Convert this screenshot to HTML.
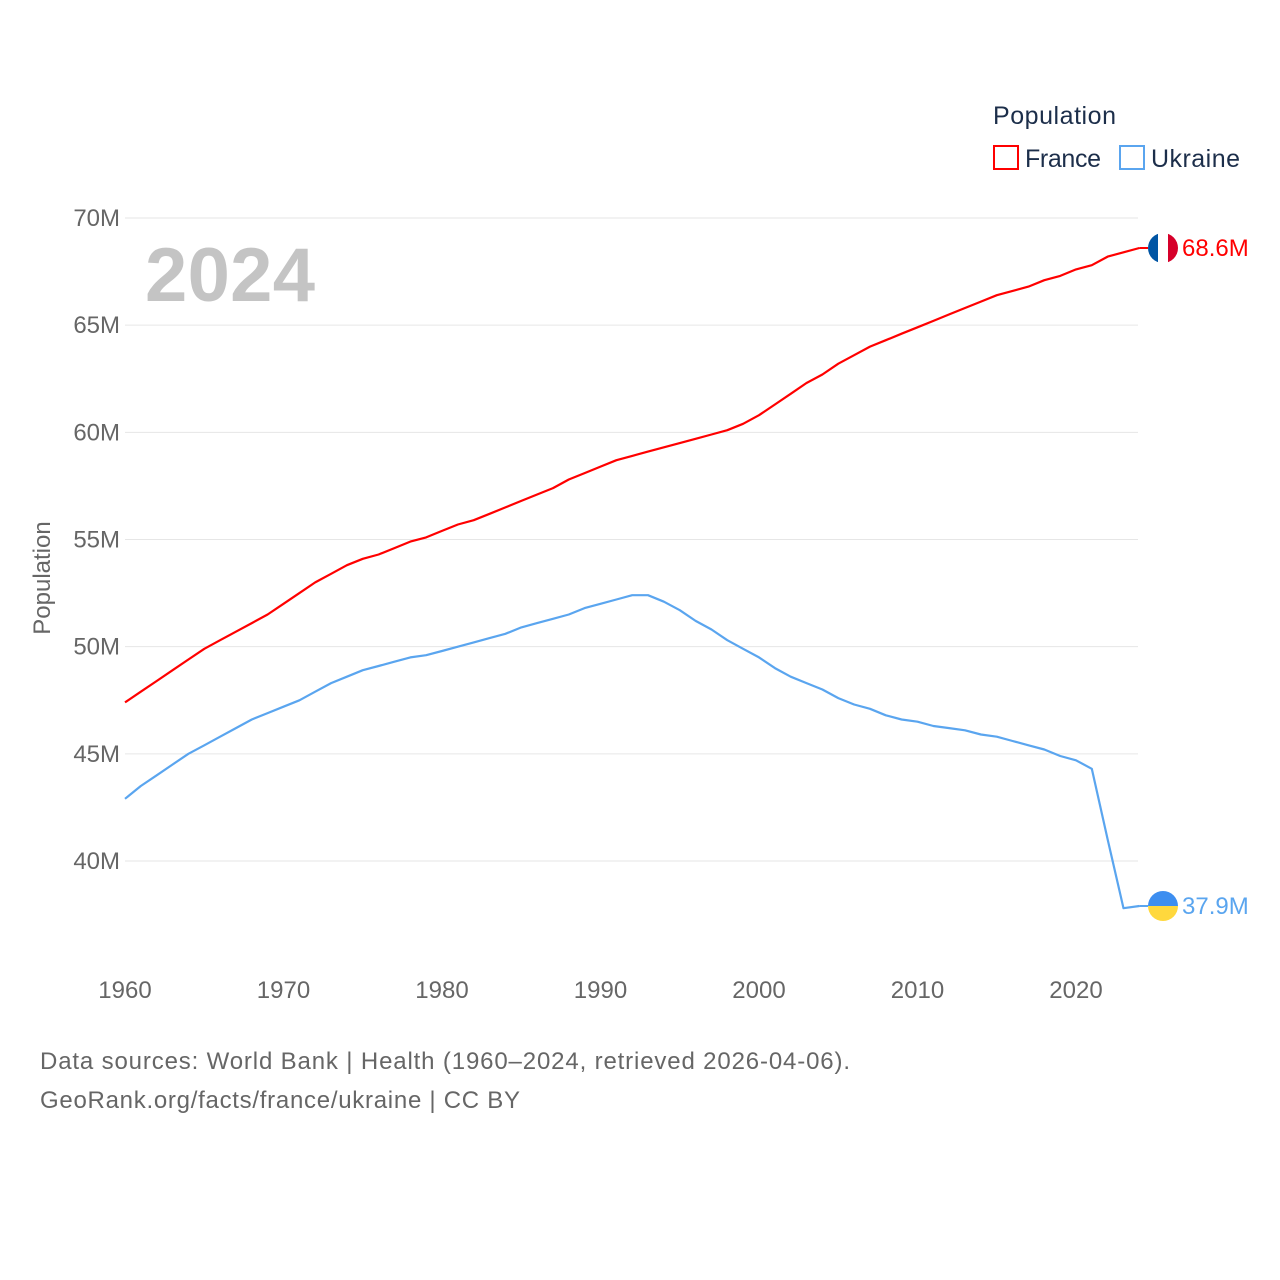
<!DOCTYPE html>
<html><head><meta charset="utf-8"><style>
html,body{margin:0;padding:0;background:#fff;}
svg{display:block;font-family:"Liberation Sans",sans-serif;}
</style></head><body>
<svg id="chart" width="1280" height="1280" viewBox="0 0 1280 1280">
  <g id="grid"></g>
  <g id="yticks"></g>
  <g id="xticks"></g>
  <text x="145" y="301" font-size="76" font-weight="bold" fill="#c4c4c4" textLength="170">2024</text>
  <text transform="translate(50,578) rotate(-90)" text-anchor="middle" font-size="24" fill="#666">Population</text>
  <g id="series"></g>
  <g>
    <text x="993" y="124" font-size="25" fill="#1c2e4a" textLength="123">Population</text>
    <g>
      <rect x="994" y="146" width="24" height="23" fill="none" stroke="#ff0000" stroke-width="2"/>
      <text x="1025" y="167" font-size="25" fill="#1c2e4a" textLength="76">France</text>
    </g>
    <g>
      <rect x="1120" y="146" width="24" height="23" fill="none" stroke="#5aa5ef" stroke-width="2"/>
      <text x="1151" y="167" font-size="25" fill="#1c2e4a" textLength="89">Ukraine</text>
    </g>
  </g>
  <text x="40" y="1069" font-size="24" fill="#666" textLength="810">Data sources: World Bank | Health (1960–2024, retrieved 2026-04-06).</text>
  <text x="40" y="1108" font-size="24" fill="#666" textLength="480">GeoRank.org/facts/france/ukraine | CC BY</text>
</svg>
<script>
const years = [];
for (let y = 1960; y <= 2024; y++) years.push(y);
const franceValues = [47.4,47.9,48.4,48.9,49.4,49.9,50.3,50.7,51.1,51.5,
52.0,52.5,53.0,53.4,53.8,54.1,54.3,54.6,54.9,55.1,
55.4,55.7,55.9,56.2,56.5,56.8,57.1,57.4,57.8,58.1,
58.4,58.7,58.9,59.1,59.3,59.5,59.7,59.9,60.1,60.4,
60.8,61.3,61.8,62.3,62.7,63.2,63.6,64.0,64.3,64.6,
64.9,65.2,65.5,65.8,66.1,66.4,66.6,66.8,67.1,67.3,
67.6,67.8,68.2,68.4,68.6];
const ukraineValues = [42.9,43.5,44.0,44.5,45.0,45.4,45.8,46.2,46.6,46.9,
47.2,47.5,47.9,48.3,48.6,48.9,49.1,49.3,49.5,49.6,
49.8,50.0,50.2,50.4,50.6,50.9,51.1,51.3,51.5,51.8,
52.0,52.2,52.4,52.4,52.1,51.7,51.2,50.8,50.3,49.9,
49.5,49.0,48.6,48.3,48.0,47.6,47.3,47.1,46.8,46.6,
46.5,46.3,46.2,46.1,45.9,45.8,45.6,45.4,45.2,44.9,
44.7,44.3,41.0,37.8,37.9];
const yTicks = [40,45,50,55,60,65,70];
const xTicks = [1960,1970,1980,1990,2000,2010,2020];
const endLabels = ["68.6M","37.9M"];

const NS = "http://www.w3.org/2000/svg";
const xScale = y => 125 + (y - 1960) * (1076 - 125) / 60;
const yScale = v => 218 + (70 - v) * (861 - 218) / 30;
function mk(tag, attrs, parent) {
  const e = document.createElementNS(NS, tag);
  for (const k in attrs) e.setAttribute(k, attrs[k]);
  parent.appendChild(e);
  return e;
}
const grid = document.getElementById('grid');
const yt = document.getElementById('yticks');
yTicks.forEach(v => {
  const l = mk('line', {x1: 125, x2: 1138, y1: yScale(v), y2: yScale(v), stroke: '#e6e6e6', 'stroke-width': 1}, grid);
  
  
  const t = mk('text', {x: 120, y: yScale(v) + 8, 'text-anchor': 'end', 'font-size': 24, fill: '#666'}, yt);
  t.textContent = v + 'M';
  
  
});
const xt = document.getElementById('xticks');
xTicks.forEach(y => {
  const t = mk('text', {x: xScale(y), y: 998, 'text-anchor': 'middle', 'font-size': 24, fill: '#666'}, xt);
  t.textContent = y;
  
  
});
const sg = document.getElementById('series');
function line(vals, color, name) {
  const d = vals.map((v, i) => (i ? 'L' : 'M') + xScale(years[i]).toFixed(1) + ',' + yScale(v).toFixed(1)).join('');
  const p = mk('path', {d: d, fill: 'none', stroke: color, 'stroke-width': 2.2, 'stroke-linejoin': 'round'}, sg);
  
  
}
line(franceValues, '#ff0000', 'france-line');
line(ukraineValues, '#5aa5ef', 'ukraine-line');

const fy = yScale(franceValues[franceValues.length - 1]);
const uy = yScale(ukraineValues[ukraineValues.length - 1]);
const cx = 1163, r = 15;
const defs = mk('defs', {}, sg);
const cp1 = mk('clipPath', {id: 'cf'}, defs); mk('circle', {cx: cx, cy: fy, r: r}, cp1);
const cp2 = mk('clipPath', {id: 'cu'}, defs); mk('circle', {cx: cx, cy: uy, r: r}, cp2);
const ff = mk('g', {'clip-path': 'url(#cf)'}, sg);


mk('rect', {x: cx - r, y: fy - r, width: 10, height: 30, fill: '#0055a4'}, ff);
mk('rect', {x: cx - 5, y: fy - r, width: 10, height: 30, fill: '#ffffff'}, ff);
mk('rect', {x: cx + 5, y: fy - r, width: 10, height: 30, fill: '#d6002a'}, ff);
mk('line', {x1: xScale(2024), x2: cx - r, y1: fy, y2: fy, stroke: '#ff0000', 'stroke-width': 2}, sg);
const uf = mk('g', {'clip-path': 'url(#cu)'}, sg);


mk('rect', {x: cx - r, y: uy - r, width: 30, height: 15, fill: '#3d8ef0'}, uf);
mk('rect', {x: cx - r, y: uy, width: 30, height: 15, fill: '#ffd83d'}, uf);
mk('line', {x1: xScale(2024), x2: cx - r, y1: uy, y2: uy, stroke: '#5aa5ef', 'stroke-width': 2}, sg);
const t1 = mk('text', {x: 1182, y: fy + 8, 'font-size': 24, fill: '#ff0000'}, sg);
t1.textContent = endLabels[0];


const t2 = mk('text', {x: 1182, y: uy + 8, 'font-size': 24, fill: '#5aa5ef'}, sg);
t2.textContent = endLabels[1];


</script>
</body></html>
